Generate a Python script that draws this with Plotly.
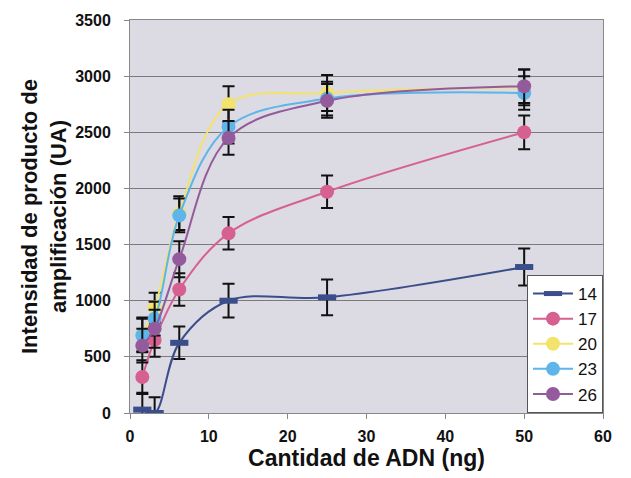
import plotly.graph_objects as go

# DNA amount (ng) per dilution step
adn_ng = [1.5625, 3.125, 6.25, 12.5, 25, 50]

# Series names (cycle number) and mean intensities (UA)
series_names = ["14", "17", "20", "23", "26"]
vals_14 = [30, 0, 625, 1000, 1030, 1300]
vals_17 = [320, 650, 1100, 1600, 1970, 2500]
vals_20 = [700, 940, 1780, 2750, 2850, 2900]
vals_23 = [690, 840, 1760, 2550, 2800, 2850]
vals_26 = [600, 750, 1370, 2450, 2780, 2910]

# Error bar half-widths (UA)
err_14 = [150, 140, 145, 150, 160, 165]
err_17 = [150, 150, 145, 145, 145, 150]
err_20 = [150, 130, 150, 160, 160, 160]
err_23 = [150, 150, 150, 150, 150, 150]
err_26 = [150, 170, 160, 150, 150, 150]

colors = ["#3b4e8c", "#d6608f", "#f3e36c", "#5db5ea", "#935a9c"]
values = [vals_14, vals_17, vals_20, vals_23, vals_26]
errors = [err_14, err_17, err_20, err_23, err_26]

FONT = "Liberation Sans, Arial, sans-serif"

fig = go.Figure()
for i, (name, v, e, c) in enumerate(zip(series_names, values, errors, colors)):
    if i == 0:
        marker = dict(symbol="line-ew", size=13, color=c,
                      line=dict(color=c, width=6))
    else:
        marker = dict(symbol="circle", size=14, color=c, line=dict(width=0))
    fig.add_trace(go.Scatter(
        x=adn_ng, y=v, name=name, mode="lines+markers",
        line=dict(color=c, width=2, shape="spline", smoothing=1.0),
        marker=marker,
        error_y=dict(type="data", array=e, visible=True,
                     color="#111111", thickness=2, width=6),
        cliponaxis=True,
    ))

fig.update_layout(
    width=631, height=478,
    margin=dict(l=130, r=28, t=16, b=65),
    paper_bgcolor="white",
    plot_bgcolor="#dcdae2",
    font=dict(family=FONT, color="#111111"),
    showlegend=True,
    legend=dict(
        x=1, y=0, xanchor="right", yanchor="bottom",
        bgcolor="white", bordercolor="#555555", borderwidth=1,
        font=dict(family=FONT, size=17, color="#111111"),
        itemwidth=40, tracegroupgap=0, entrywidth=36,
    ),
)

fig.update_xaxes(
    range=[0, 60], tickvals=[0, 10, 20, 30, 40, 50, 60],
    showgrid=False, zeroline=False,
    showline=True, linecolor="#888888", linewidth=1, mirror=True,
    ticks="outside", ticklen=5, tickcolor="#888888", ticklabelstandoff=4,
    tickfont=dict(family=FONT, size=16, weight="bold"),
    title=dict(text="Cantidad de ADN (ng)", standoff=4,
               font=dict(family=FONT, size=23, weight="bold")),
)
fig.update_yaxes(
    range=[0, 3500], tickvals=[0, 500, 1000, 1500, 2000, 2500, 3000, 3500],
    showgrid=True, gridcolor="#7a7a7a", gridwidth=1, zeroline=False,
    showline=True, linecolor="#888888", linewidth=1, mirror=True,
    ticks="outside", ticklen=5, tickcolor="#888888", ticklabelstandoff=10,
    tickfont=dict(family=FONT, size=16, weight="bold"),
    title=dict(text="Intensidad de producto de<br>amplificación (UA)", standoff=2,
               font=dict(family=FONT, size=22, weight="bold")),
)

fig.write_html("out.html")
